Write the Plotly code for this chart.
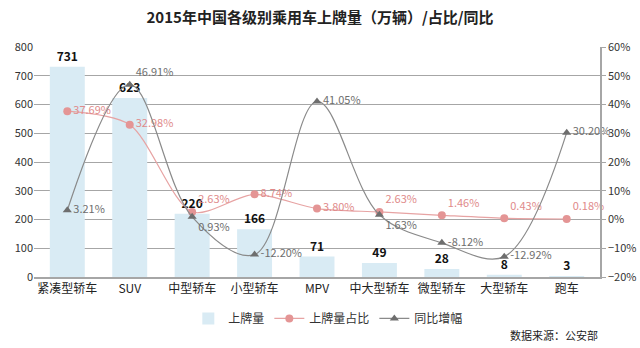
import plotly.graph_objects as go

categories = ["紧凑型轿车", "SUV", "中型轿车", "小型轿车", "MPV", "中大型轿车", "微型轿车", "大型轿车", "跑车"]
volume = [731, 623, 220, 166, 71, 49, 28, 8, 3]
share = [37.69, 32.98, 2.63, 8.74, 3.80, 2.63, 1.46, 0.43, 0.18]
yoy = [3.21, 46.91, 0.93, -12.20, 41.05, 1.63, -8.12, -12.92, 30.20]

FONT = "Noto Sans CJK SC"

share_pos = ["middle right", "middle right", "top right", "middle right", "middle right",
             "top right", "top right", "top right", "top right"]
yoy_pos = ["middle right", "top right", "bottom right", "middle right", "middle right",
           "bottom right", "middle right", "middle right", "middle right"]

fig = go.Figure()
fig.add_trace(go.Bar(
    x=categories, y=volume, name="上牌量",
    marker=dict(color="#D9EBF4", line=dict(width=0)),
    width=0.56,
    text=[str(v) for v in volume], textposition="outside",
    textfont=dict(family=FONT, size=12, color="#111111"),
    texttemplate="<b>%{text}</b>", cliponaxis=False,
))
fig.add_trace(go.Scatter(
    x=categories, y=share, name="上牌量占比", yaxis="y2",
    mode="lines+markers+text",
    line=dict(color="#E7A3A3", width=1.2, shape="spline", smoothing=0.8),
    marker=dict(symbol="circle", size=8, color="#E49595"),
    text=[f"{v:.2f}%" for v in share], textposition=share_pos,
    textfont=dict(family=FONT, size=11, color="#E08A8A"),
    cliponaxis=False,
))
fig.add_trace(go.Scatter(
    x=categories, y=yoy, name="同比增幅", yaxis="y2",
    mode="lines+markers+text",
    line=dict(color="#8A8A8A", width=1.2, shape="spline", smoothing=1.0),
    marker=dict(symbol="triangle-up", size=8, color="#6E6E6E"),
    text=[f"{v:.2f}%" for v in yoy], textposition=yoy_pos,
    textfont=dict(family=FONT, size=11, color="#6E6E6E"),
    cliponaxis=False,
))

fig.update_layout(
    width=640, height=348,
    margin=dict(l=34, r=40, t=47, b=71, autoexpand=False),
    paper_bgcolor="white", plot_bgcolor="white",
    font=dict(family=FONT, size=11, color="#333333"),
    title=dict(text="<b>2015年中国各级别乘用车上牌量（万辆）/占比/同比</b>",
               x=0.5, xanchor="center", y=0.95, yanchor="middle",
               font=dict(family=FONT, size=15, color="#222222")),
    xaxis=dict(showgrid=False, showline=True, linecolor="#A6A6A6", linewidth=1.5,
               tickfont=dict(family=FONT, size=12, color="#222222"), ticks=""),
    yaxis=dict(range=[0, 800], dtick=100, showgrid=True, gridcolor="#A6A6A6", gridwidth=1,
               showline=False, zeroline=False, ticks="",
               tickfont=dict(family=FONT, size=11, color="#333333")),
    yaxis2=dict(range=[-20, 60], dtick=10, overlaying="y", side="right",
                ticksuffix="%", showgrid=False, zeroline=False,
                showline=True, linecolor="#A6A6A6", linewidth=1.5,
                ticks="outside", ticklen=4, tickcolor="#A6A6A6",
                tickfont=dict(family=FONT, size=11, color="#333333")),
    legend=dict(orientation="h", x=0.52, xanchor="center",
                yref="container", y=0.085, yanchor="middle",
                font=dict(family=FONT, size=12, color="#333333"),
                bgcolor="rgba(0,0,0,0)"),
    showlegend=True,
    bargap=0.4,
)
fig.add_annotation(text="数据来源：公安部", xref="paper", yref="paper",
                   x=1.0, y=-0.25, xanchor="right", yanchor="middle", showarrow=False,
                   font=dict(family=FONT, size=11, color="#222222"))

fig.write_html("out.html")
